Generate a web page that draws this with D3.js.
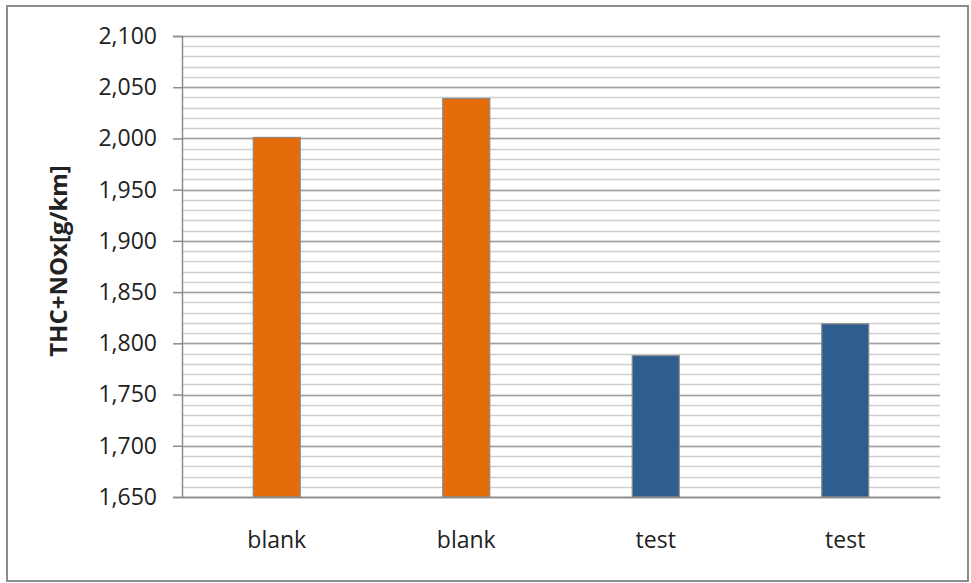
<!DOCTYPE html>
<html>
<head>
<meta charset="utf-8">
<script src="https://cdn.jsdelivr.net/npm/d3@7/dist/d3.min.js"></script>
<style>
  html, body { margin: 0; padding: 0; background: #fff; }
  svg { display: block; }
  text { font-family: "Open Sans", "Liberation Sans", sans-serif; fill: #222; }
</style>
</head>
<body>
<svg id="chart" width="971" height="583"></svg>
<script>
// Emission results per run
const categories = ["blank", "blank", "test", "test"];
const values = [2.001, 2.039, 1.788, 1.819];
const barColors = ["#E46C0A", "#E46C0A", "#2D5E8E", "#2D5E8E"];
const yDomain = [1.65, 2.1];
const majorTicks = [1.65, 1.70, 1.75, 1.80, 1.85, 1.90, 1.95, 2.00, 2.05, 2.10];
const yTitle = "THC+NOx[g/km]";

const svg = d3.select("#chart");
const W = 971, H = 583;
const margin = { left: 182, right: 31, top: 36, bottom: 86 };
const plotW = W - margin.left - margin.right;
const plotH = H - margin.top - margin.bottom;
const labelFont = "'Open Sans', 'Liberation Sans', sans-serif";

// Outer frame
svg.append("rect")
  .attr("x", 7).attr("y", 6)
  .attr("width", 961).attr("height", 575)
  .attr("fill", "#fff")
  .attr("stroke", "#8c8c8c").attr("stroke-width", 2);

const g = svg.append("g").attr("transform", `translate(${margin.left},${margin.top})`);

const x = d3.scaleBand().domain(d3.range(categories.length)).range([0, plotW]);
const y = d3.scaleLinear().domain(yDomain).range([plotH, 0]);

// Minor gridlines every 0.01
const minorTicks = d3.range(0, 46).map(i => +(yDomain[0] + i * 0.01).toFixed(3));
g.append("g").selectAll("line").data(minorTicks).join("line")
  .attr("x1", 0).attr("x2", plotW)
  .attr("y1", d => Math.round(y(d)) + 0.5).attr("y2", d => Math.round(y(d)) + 0.5)
  .attr("stroke", "#cfcfcf").attr("stroke-width", 1.5);

// Major gridlines
g.append("g").selectAll("line").data(majorTicks).join("line")
  .attr("x1", 0).attr("x2", plotW)
  .attr("y1", d => Math.round(y(d)) + 0.5).attr("y2", d => Math.round(y(d)) + 0.5)
  .attr("stroke", "#a0a0a0").attr("stroke-width", 1.5);

// Bars
const bw = 47;
g.append("g").selectAll("rect").data(values).join("rect")
  .attr("x", (d, i) => x(i) + x.bandwidth() / 2 - bw / 2)
  .attr("y", d => y(d))
  .attr("width", bw)
  .attr("height", d => plotH - y(d))
  .attr("fill", (d, i) => barColors[i])
  .attr("stroke", "#8a8a8a").attr("stroke-width", 1.2);

// Y axis
const yAxis = g.append("g")
  .call(d3.axisLeft(y).tickValues(majorTicks).tickSize(9).tickPadding(16)
    .tickFormat(d => d3.format(",.3f")(d).replace(".", ",")));
yAxis.select(".domain").attr("stroke", "#8c8c8c").attr("stroke-width", 1.5);
yAxis.selectAll(".tick line").attr("stroke", "#8c8c8c").attr("stroke-width", 1.5);
yAxis.selectAll(".tick text")
  .style("font-size", "23px").attr("fill", "#222")
  .style("font-family", labelFont);

// X axis
const xAxis = g.append("g").attr("transform", `translate(0,${plotH})`)
  .call(d3.axisBottom(x).tickSize(0).tickPadding(35).tickFormat(i => categories[i]));
xAxis.select(".domain").attr("stroke", "#8c8c8c").attr("stroke-width", 1.5);
xAxis.selectAll(".tick text")
  .style("font-size", "23px").attr("fill", "#222")
  .style("font-family", labelFont);

// Y axis title
svg.append("text")
  .attr("transform", `translate(67,261) rotate(-90)`)
  .attr("text-anchor", "middle")
  .style("font-size", "24px").style("font-weight", "bold")
  .attr("fill", "#111")
  .text(yTitle);
</script>
</body>
</html>
